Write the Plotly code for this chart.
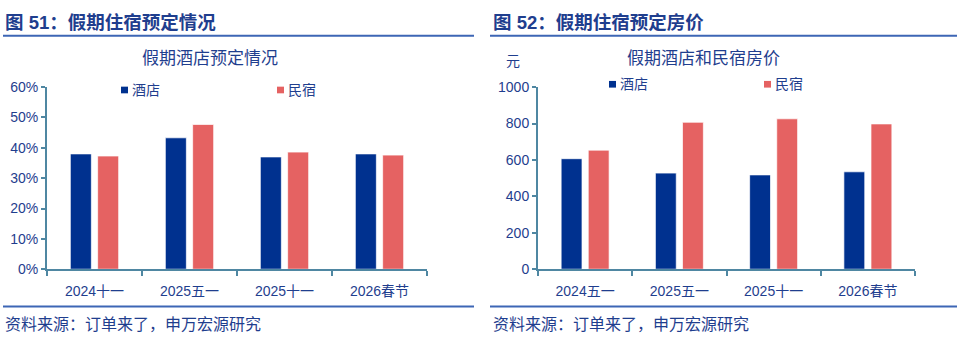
import plotly.graph_objects as go

# Holiday accommodation booking rates (hotel vs. homestay)
rate_categories = ["2024十一", "2025五一", "2025十一", "2026春节"]
hotel_rate = [0.380, 0.433, 0.370, 0.380]
homestay_rate = [0.373, 0.477, 0.386, 0.376]
rate_ticks = [0, 0.1, 0.2, 0.3, 0.4, 0.5, 0.6]

# Holiday room prices, yuan
price_categories = ["2024五一", "2025五一", "2025十一", "2026春节"]
hotel_price = [607, 528, 518, 535]
homestay_price = [654, 807, 826, 798]
price_ticks = [0, 200, 400, 600, 800, 1000]

series_names = ["酒店", "民宿"]

W, H = 960, 343
HOTEL = "#00318F"
HOMESTAY = "#E56262"
TEXT = "#1F3E8E"
AXIS = "#4F87A2"
RULE = "#3D66B5"
FONT = "Liberation Sans, Arial, Noto Sans CJK SC"


def px_x(x):
    """Pixel column -> paper x."""
    return x / W


def px_y(y):
    """Pixel row -> paper y."""
    return 1 - y / H


fig = go.Figure()

bar_line = dict(color="rgba(255,255,255,0.7)", width=1)
fig.add_trace(go.Bar(x=rate_categories, y=hotel_rate, name=series_names[0],
                     marker=dict(color=HOTEL, line=bar_line),
                     xaxis="x", yaxis="y", showlegend=False))
fig.add_trace(go.Bar(x=rate_categories, y=homestay_rate, name=series_names[1],
                     marker=dict(color=HOMESTAY, line=bar_line),
                     xaxis="x", yaxis="y", showlegend=False))
fig.add_trace(go.Bar(x=price_categories, y=hotel_price, name=series_names[0],
                     marker=dict(color=HOTEL, line=bar_line),
                     xaxis="x2", yaxis="y2", showlegend=False))
fig.add_trace(go.Bar(x=price_categories, y=homestay_price, name=series_names[1],
                     marker=dict(color=HOMESTAY, line=bar_line),
                     xaxis="x2", yaxis="y2", showlegend=False))

tick_font = dict(family=FONT, size=14, color=TEXT)
y_dom = [px_y(274), px_y(83)]

xcommon = dict(type="category", showline=True, linecolor=AXIS, linewidth=2,
               ticks="outside", tickson="boundaries", ticklen=5,
               tickcolor=AXIS, tickwidth=2, tickfont=tick_font,
               showgrid=False, zeroline=False, ticklabelstandoff=8)
ycommon = dict(showline=True, linecolor=AXIS, linewidth=2, ticks="outside",
               ticklen=4, tickcolor=AXIS, tickwidth=2, tickfont=tick_font,
               showgrid=False, zeroline=False, domain=y_dom)

fig.update_layout(
    width=W, height=H, autosize=False,
    margin=dict(l=0, r=0, t=0, b=0),
    paper_bgcolor="white", plot_bgcolor="white",
    barmode="group", bargap=0.425, bargroupgap=0.23,
    font=dict(family=FONT, color=TEXT),
    xaxis=dict(xcommon, domain=[px_x(47), px_x(427)], anchor="y"),
    yaxis=dict(ycommon, range=[0, 0.6], tickvals=rate_ticks,
               tickformat=".0%", anchor="x"),
    xaxis2=dict(xcommon, domain=[px_x(538), px_x(915)], anchor="y2"),
    yaxis2=dict(ycommon, range=[0, 1000], tickvals=price_ticks, anchor="x2"),
)

annotations = []


def text(x, y, s, size, xanchor="left", bold=False):
    annotations.append(dict(
        x=px_x(x), y=px_y(y), xref="paper", yref="paper",
        text=f"<b>{s}</b>" if bold else s, showarrow=False,
        xanchor=xanchor, yanchor="middle",
        font=dict(family=FONT, size=size, color=TEXT)))


# figure headings
text(3, 15, "图 51：假期住宿预定情况", 18.5, bold=True)
text(491, 15, "图 52：假期住宿预定房价", 18.5, bold=True)

# chart titles
text(210, 53, "假期酒店预定情况", 17, xanchor="center")
text(703, 53, "假期酒店和民宿房价", 17, xanchor="center")
text(513, 56, "元", 14, xanchor="center")

# sources
text(3, 332, "资料来源：订单来了，申万宏源研究", 16)
text(491, 332, "资料来源：订单来了，申万宏源研究", 16)

shapes = []

# legend swatches and labels
legend_items = [
    (121, 86, HOTEL, series_names[0]),
    (277, 86, HOMESTAY, series_names[1]),
    (609, 80, HOTEL, series_names[0]),
    (764, 80, HOMESTAY, series_names[1]),
]
for lx, ly, col, label in legend_items:
    shapes.append(dict(type="rect", xref="paper", yref="paper",
                       x0=px_x(lx), x1=px_x(lx + 7),
                       y0=px_y(ly + 3.5), y1=px_y(ly - 3.5),
                       fillcolor=col, line=dict(width=0)))
    text(lx + 9, ly, label, 14)

# heading and footer rules
for x0, x1 in [(3, 474), (490, 957)]:
    for yy in (29, 313):
        shapes.append(dict(type="line", xref="paper", yref="paper",
                           x0=px_x(x0), x1=px_x(x1), y0=px_y(yy), y1=px_y(yy),
                           line=dict(color=RULE, width=2)))

fig.update_layout(annotations=annotations, shapes=shapes)

fig.write_html("out.html")
